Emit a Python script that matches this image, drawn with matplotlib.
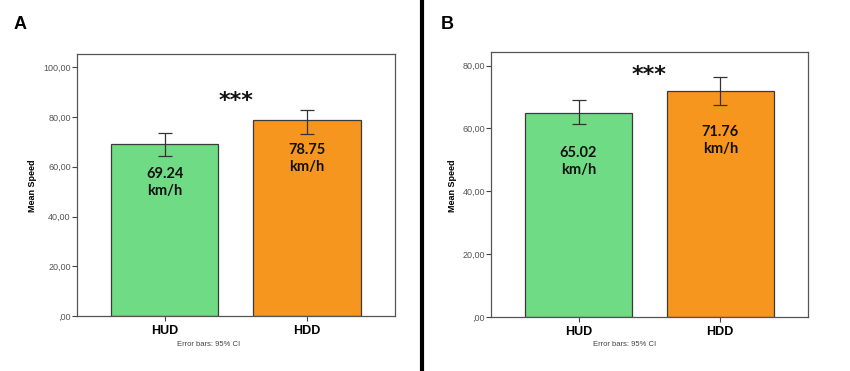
import matplotlib
matplotlib.use("Agg")
import matplotlib.pyplot as plt
from matplotlib.lines import Line2D

# Data
groups = ["HUD", "HDD"]
means_a = [69.24, 78.75]
ci_low_a = [64.5, 73.2]
ci_high_a = [73.6, 82.6]
means_b = [65.02, 71.76]
ci_low_b = [61.4, 67.5]
ci_high_b = [69.1, 76.3]
yticks_a = [0, 20, 40, 60, 80, 100]
yticks_b = [0, 20, 40, 60, 80]

bar_colors = ["#6fdb84", "#f7961e"]
edge = "#3a3a3a"


def fmt(v):
    # SPSS-style comma decimals
    s = "%.2f" % v
    s = s.replace(".", ",")
    if s.startswith("0"):
        s = s[1:]
    return s


def panel(fig, rect, means, lo, hi, yticks, ylim, star_y, letter, letter_x, ylab_x, foot_x):
    ax = fig.add_axes(rect)
    x = list(range(len(groups)))
    ax.bar(x, means, width=0.755, color=bar_colors, edgecolor=edge, linewidth=0.9, zorder=2)
    err = [[m - l for m, l in zip(means, lo)], [h - m for m, h in zip(means, hi)]]
    ax.errorbar(x, means, yerr=err, fmt="none", ecolor="#333333", elinewidth=0.9,
                capsize=4.8, capthick=0.9, zorder=3)
    for xi, m in zip(x, means):
        ax.text(xi, m - 15.5, "%.2f\nkm/h" % m, ha="center", va="center",
                fontsize=10.5, fontweight="bold", family="Lato", color="#111111",
                linespacing=1.25, zorder=4)
    ax.text(0.5, star_y, "***", ha="center", va="center", fontsize=16,
            fontweight="bold", color="#111111")
    ax.set_xlim(-0.615, 1.615)
    ax.set_ylim(*ylim)
    ax.set_xticks(x)
    ax.set_xticklabels(groups, fontsize=9, fontweight="bold", family="Liberation Sans")
    ax.set_yticks(yticks)
    ax.set_yticklabels([fmt(t) for t in yticks], fontsize=6.5, color="#555555",
                       family="Liberation Sans")
    ax.tick_params(axis="both", length=3.5, width=0.8, color="#444444", pad=1)
    ax.tick_params(axis="x", pad=3)
    for sp in ax.spines.values():
        sp.set_color("#555555")
        sp.set_linewidth(0.9)
    fig.text(letter_x, 0.935, letter, fontsize=13, fontweight="bold",
             family="Liberation Sans", ha="left", va="center")
    fig.text(ylab_x, 0.5, "Mean Speed", rotation=90, fontsize=6.5, fontweight="bold",
             family="Liberation Sans", ha="center", va="center")
    fig.text(foot_x, 0.072, "Error bars: 95% CI", fontsize=5.5, color="#444444",
             family="Liberation Sans", ha="center", va="center")
    return ax


fig = plt.figure(figsize=(8.5, 3.71), dpi=100)

panel(fig, [0.0906, 0.148, 0.374, 0.706], means_a, ci_low_a, ci_high_a,
      yticks_a, (0, 105.2), 86.4, "A", 0.016, 0.038, 0.245)
panel(fig, [0.578, 0.1447, 0.372, 0.716], means_b, ci_low_b, ci_high_b,
      yticks_b, (0, 84.4), 77.0, "B", 0.518, 0.532, 0.735)

# divider between the two panels
fig.add_artist(Line2D([0.4965, 0.4965], [0, 1], color="black", linewidth=3,
                      transform=fig.transFigure))

fig.savefig("out.png", dpi=100)
